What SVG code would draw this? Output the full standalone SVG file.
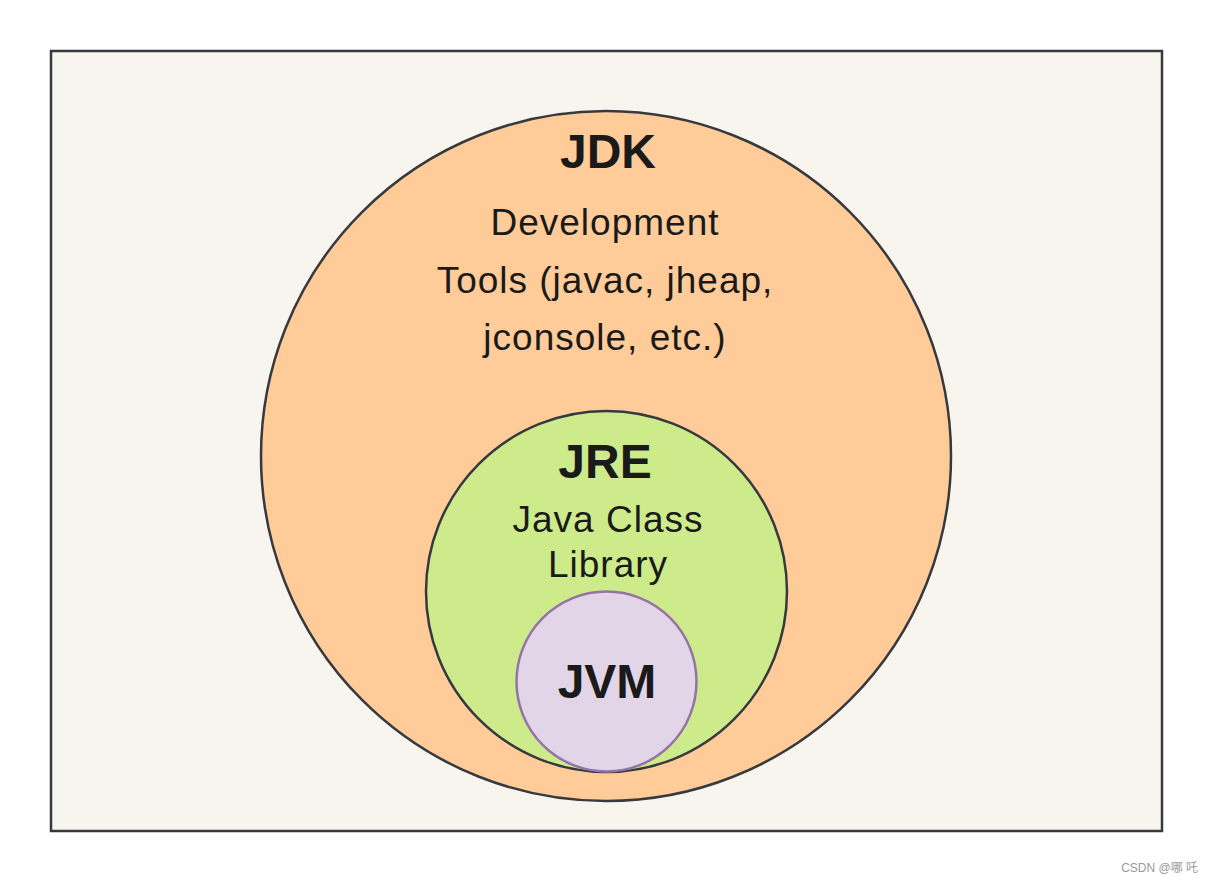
<svg xmlns="http://www.w3.org/2000/svg" width="1213" height="883" viewBox="0 0 1213 883">
<style>
.t{font-family:"Liberation Sans",Arial,Helvetica,sans-serif;fill:#1a1a1a;text-anchor:middle}
.b{font-weight:bold;font-size:48px}
.n{font-size:37px;letter-spacing:1px}
</style>
<rect width="1213" height="883" fill="#ffffff"/>
<g id="frame"><rect x="51" y="51" width="1111" height="780" fill="#f8f5ee" stroke="#36393d" stroke-width="2.5"/></g>
<g id="jdk">
<circle cx="606" cy="456" r="345" fill="#ffcc99" stroke="#36393d" stroke-width="2.5"/>
<text class="t b" x="608" y="168">JDK</text>
<text class="t n" x="605" y="235">Development</text>
<text class="t n" x="605" y="293">Tools (javac, jheap,</text>
<text class="t n" x="605" y="350">jconsole, etc.)</text>
</g>
<g id="jre">
<circle cx="606.5" cy="591.5" r="180.5" fill="#cdeb8b" stroke="#36393d" stroke-width="2.5"/>
<text class="t b" x="605" y="478">JRE</text>
<text class="t n" x="608" y="532">Java Class</text>
<text class="t n" x="608" y="577">Library</text>
</g>
<g id="jvm">
<circle cx="606.5" cy="681.5" r="90" fill="#e1d5e7" stroke="#9673a6" stroke-width="2.5"/>
<text class="t b" x="607" y="698">JVM</text>
</g>
<g id="connectors"></g>
<text x="1198" y="872" font-family="'Liberation Sans','Noto Sans CJK SC',sans-serif" font-size="12" fill="#999999" text-anchor="end">CSDN @哪 吒</text>
</svg>
